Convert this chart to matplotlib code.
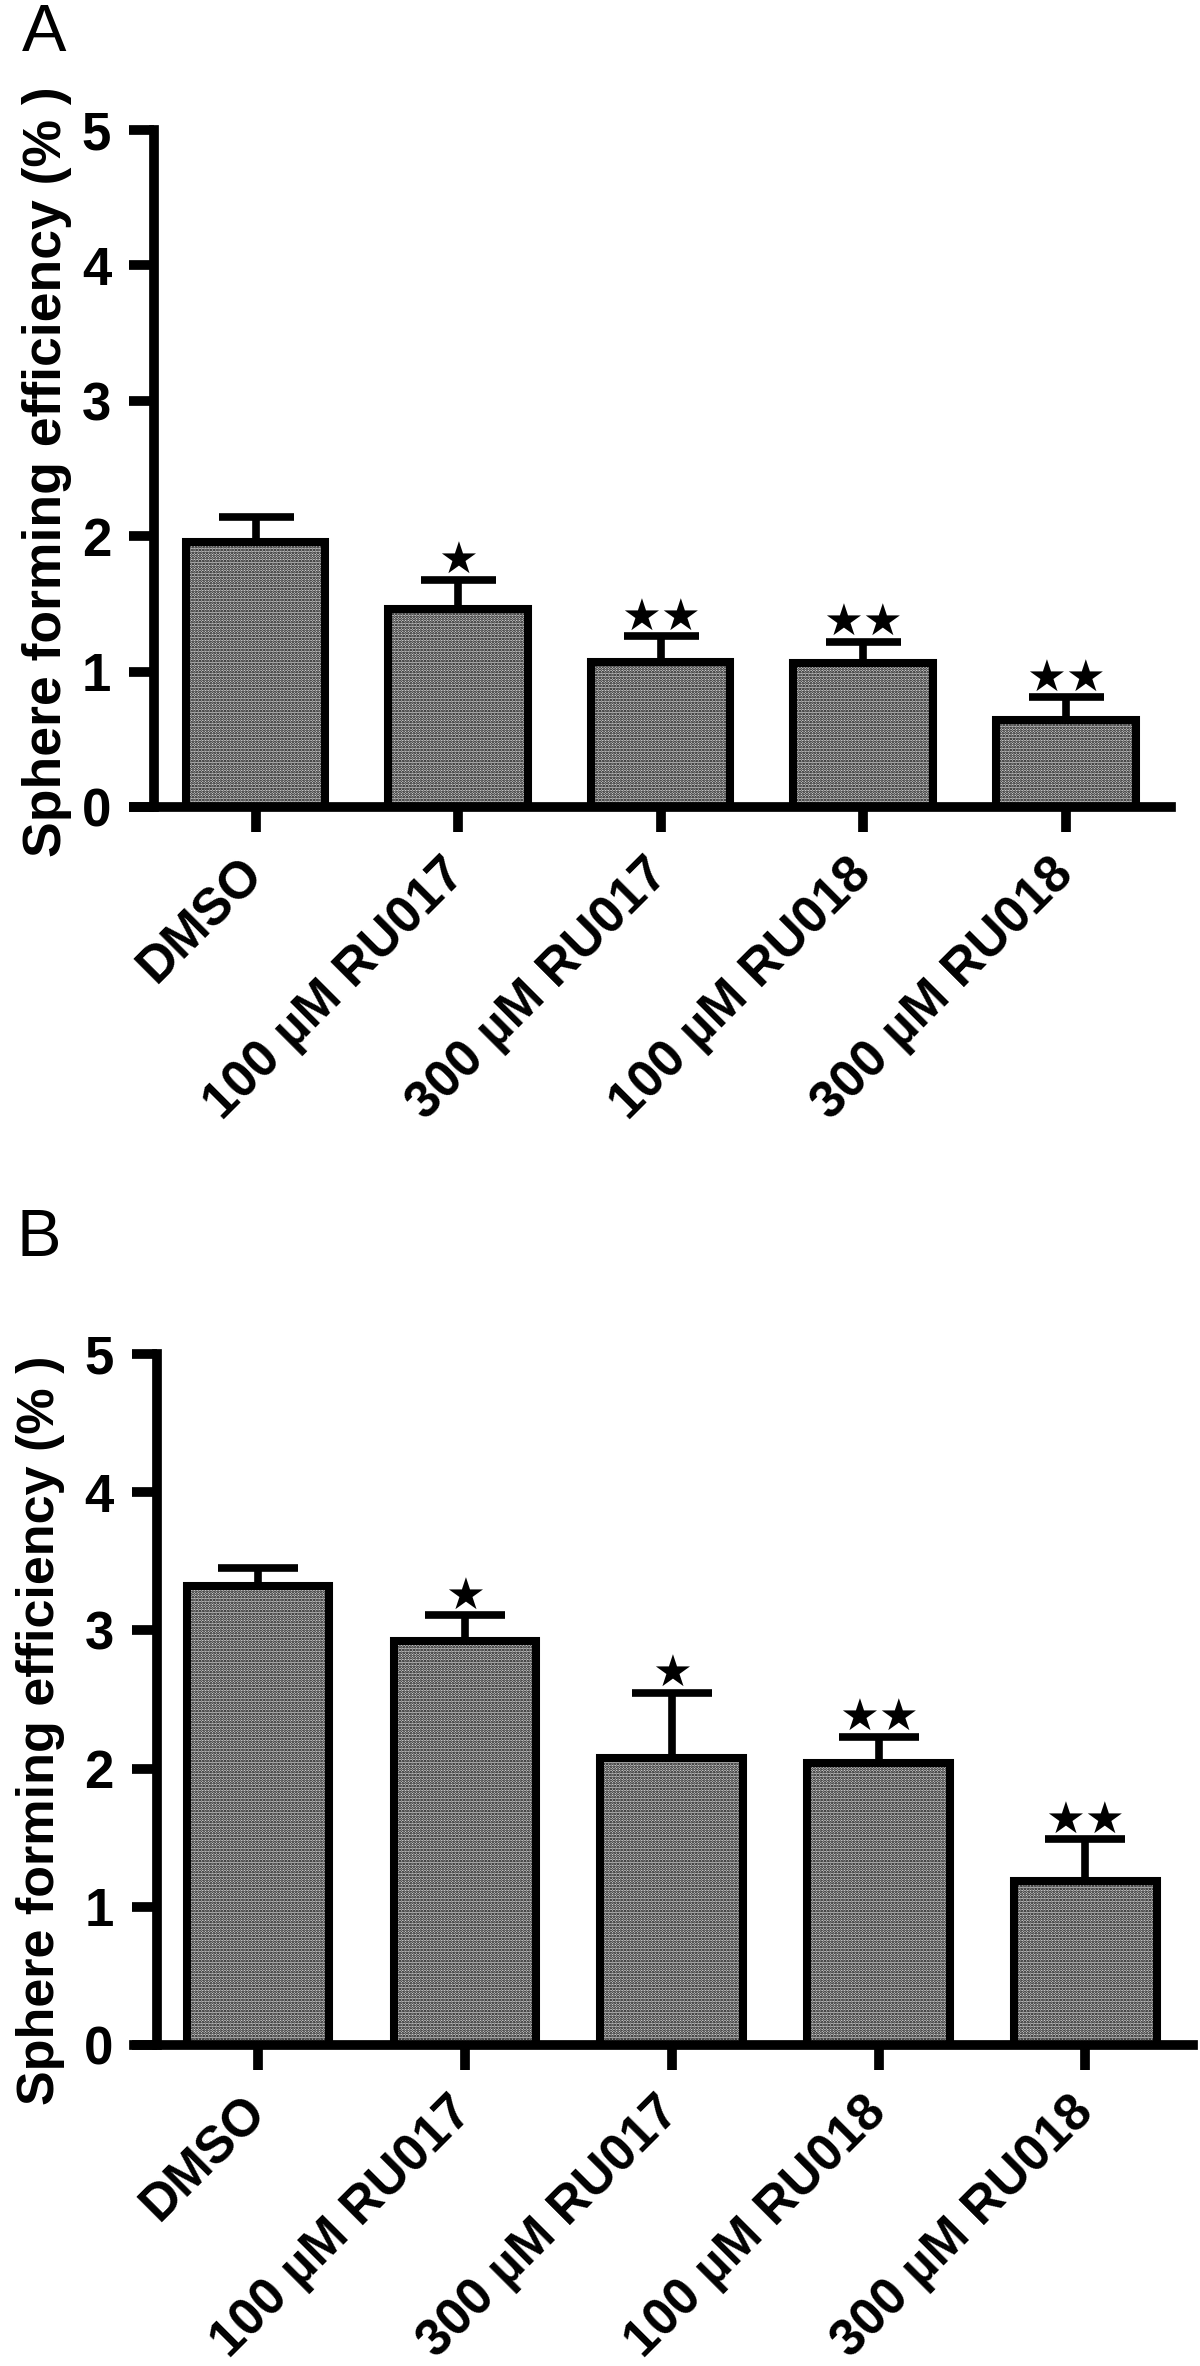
import numpy as np
import matplotlib
matplotlib.use("Agg")
import matplotlib.pyplot as plt

plt.rcParams['font.family'] = ['Liberation Sans', 'DejaVu Sans']
plt.rcParams['hatch.linewidth'] = 1.3

categories = ['DMSO', '100 µM RU017', '300 µM RU017', '100 µM RU018', '300 µM RU018']

# panel A
a_mean = [1.96, 1.46, 1.07, 1.06, 0.64]
a_err = [0.18, 0.22, 0.19, 0.16, 0.17]
a_sig = ['', '★', '★★', '★★', '★★']

# panel B
b_mean = [3.32, 2.92, 2.08, 2.04, 1.19]
b_err = [0.13, 0.19, 0.47, 0.19, 0.30]
b_sig = ['', '★', '★', '★★', '★★']

yticks = [0, 1, 2, 3, 4, 5]

W, H = 1200, 2366
fig = plt.figure(figsize=(W / 100, H / 100), dpi=100)


def panel(rect, means, errs, sig, letter, letter_xy, spine_x, capsize, label_xy, label_size):
    ax = fig.add_axes(rect)
    x = np.arange(len(categories))
    ax.bar(x, means, width=0.69, color='#d4d4d4', edgecolor='black',
           linewidth=5.8, hatch='.' * 6, zorder=2)
    ax.errorbar(x, means, yerr=[np.zeros(len(means)), errs], fmt='none',
                ecolor='black', elinewidth=5.5, capsize=capsize, capthick=5.5, zorder=3)
    for xi, m, e, s in zip(x, means, errs, sig):
        if s:
            ax.annotate(s, (xi, m + e), xytext=(0, 4), textcoords='offset points',
                        ha='center', va='baseline', fontsize=32, family='DejaVu Sans')

    ax.set_xlim(-0.6, 4.52)
    ax.set_ylim(0, 5)
    for side in ['top', 'right']:
        ax.spines[side].set_visible(False)
    ax.spines['left'].set_position(('data', spine_x))
    ax.spines['left'].set_bounds(0, 5)
    ax.spines['left'].set_linewidth(7)
    ax.spines['bottom'].set_linewidth(7)
    ax.spines['left'].set_capstyle('projecting')

    ax.set_yticks(yticks)
    ax.set_yticklabels([str(t) for t in yticks], fontsize=38, fontweight='bold')
    ax.set_xticks(x)
    ax.set_xticklabels(categories, fontsize=37, fontweight='bold', rotation=45,
                       ha='right', va='center', rotation_mode='anchor')
    ax.tick_params(axis='y', length=18, width=7, pad=13)
    ax.tick_params(axis='x', length=18, width=7, pad=25)

    ax.set_ylabel('Sphere forming efficiency (% )', fontsize=label_size, fontweight='bold')
    ax.yaxis.set_label_coords(*label_xy)

    fig.text(letter_xy[0], letter_xy[1], letter, fontsize=48, va='baseline', ha='left')
    return ax


panel([134 / W, 1 - 807 / H, 1037 / W, 677 / H], a_mean, a_err, a_sig,
      'A', (22 / W, 1 - 51 / H), -0.5, 27, (-0.060, 0.495), 38.5)
panel([134 / W, 1 - 2045 / H, 1059 / W, 691 / H], b_mean, b_err, b_sig,
      'B', (16 / W, 1 - 1256 / H), -0.49, 29, (-0.065, 0.456), 37.5)

fig.savefig('out.png', dpi=100, facecolor='white')
